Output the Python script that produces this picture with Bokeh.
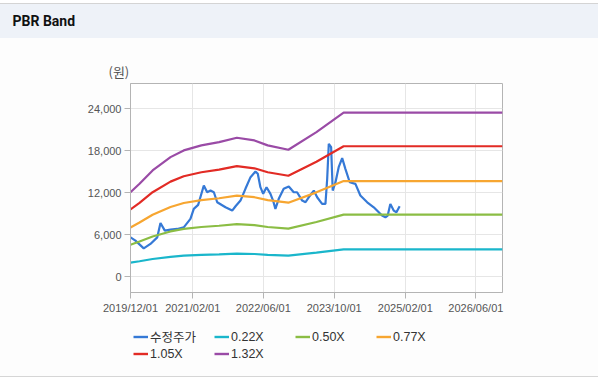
import pandas as pd
from bokeh.plotting import figure
from bokeh.layouts import column
from bokeh.models import (Range1d, FixedTicker, DatetimeTickFormatter, NumeralTickFormatter,
                          Legend, LegendItem, Title, GlobalInlineStyleSheet)
from bokeh.embed import file_html
from bokeh.resources import INLINE

# ---------------- data ----------------
price_dates = ["2019-12-01", "2020-01-04", "2020-03-01", "2020-04-16", "2020-06-02", "2020-06-24",
               "2020-07-24", "2020-09-01", "2020-10-17", "2020-12-01",
               "2021-01-16", "2021-02-08", "2021-03-10", "2021-04-18", "2021-05-11", "2021-06-03",
               "2021-06-26", "2021-07-19", "2021-09-14", "2021-10-30", "2021-11-22", "2021-12-26",
               "2022-01-29", "2022-03-05", "2022-04-08", "2022-04-24", "2022-05-12", "2022-05-31",
               "2022-06-23", "2022-07-20", "2022-08-07", "2022-08-23", "2022-09-15", "2022-10-19",
               "2022-11-23", "2022-12-27",
               "2023-01-19", "2023-02-23", "2023-03-18", "2023-04-09", "2023-05-14", "2023-06-06",
               "2023-07-10", "2023-08-02", "2023-08-14", "2023-08-25", "2023-09-10", "2023-09-21",
               "2023-10-10", "2023-11-01", "2023-11-25", "2023-12-17",
               "2024-01-16", "2024-02-24", "2024-03-29", "2024-05-15", "2024-06-29", "2024-08-25",
               "2024-09-17", "2024-10-03", "2024-10-21", "2024-11-13", "2024-12-02", "2024-12-24"]
price_values = [5620, 5150, 4050, 4680, 5620, 7680, 6580, 6720, 6820, 7050,
                8250, 9690, 10260, 13020, 12060, 12300, 12060, 10630, 9910, 9440, 10060, 10870,
                12550, 14210, 15020, 14690, 12780, 11830, 12780, 11830, 10870, 9690, 11120, 12550,
                12880, 12060,
                12060, 10870, 10630, 11340, 12300, 11340, 10400, 10400, 13980, 18980, 18500, 12300,
                13490, 15640, 16930, 15400,
                13490, 13260, 11590, 10630, 9910, 8730, 8480, 8730, 10400, 9440, 9200, 10060]

band_dates = ["2019-12-01", "2020-02-01", "2020-05-01", "2020-09-01", "2020-12-01", "2021-04-01",
              "2021-08-01", "2021-12-01", "2022-04-01", "2022-07-01", "2022-11-20", "2023-06-01",
              "2023-12-05", "2026-12-01"]
band_022 = [2010, 2210, 2530, 2845, 3005, 3125, 3200, 3305, 3245, 3125, 3020, 3440, 3900, 3900]
band_050 = [4570, 5025, 5745, 6465, 6830, 7100, 7275, 7515, 7370, 7100, 6865, 7820, 8870, 8870]
band_077 = [7040, 7740, 8850, 9955, 10520, 10935, 11205, 11575, 11350, 10935, 10570, 12045, 13660, 13660]
band_105 = [9600, 10555, 12065, 13575, 14345, 14910, 15280, 15780, 15475, 14910, 14415, 16420, 18625, 18625]
band_132 = [12065, 13265, 15165, 17070, 18030, 18745, 19205, 19840, 19455, 18745, 18125, 20645, 23415, 23415]

x_ticks = ["2019-12-01", "2021-02-01", "2022-06-01", "2023-10-01", "2025-02-01", "2026-06-01"]
y_ticks = [0, 6000, 12000, 18000, 24000]

series_names = ["수정주가", "0.22X", "0.50X", "0.77X", "1.05X", "1.32X"]
series_colors = ["#3579d6", "#1ab6cb", "#8bbd44", "#f7a631", "#e22b25", "#9a4ba6"]


def ms(d):
    return pd.Timestamp(d).value / 1e6


page_css = GlobalInlineStyleSheet(css=(
    "html, body { background: "
    "linear-gradient(to right, rgba(255,255,255,0) 598px, #ffffff 598px), "
    "linear-gradient(to bottom, #ffffff 0px, #ffffff 3px, #d4d4d4 3px, #d4d4d4 4px, "
    "#eef2f8 4px, #eef2f8 38px, #fdfdfd 38px, #fdfdfd 376px, #d6d6d6 376px, "
    "#d6d6d6 377px, #ffffff 377px) !important; overflow: hidden; }"))

# ---------------- main chart ----------------
p = figure(frame_width=372, frame_height=209, x_axis_type="datetime", output_backend="svg",
           toolbar_location=None,
           x_range=Range1d(ms("2019-12-01"), ms("2026-12-01")),
           y_range=Range1d(-2250, 27580),
           min_border_left=130, min_border_right=100, min_border_top=83, min_border_bottom=37)
p.stylesheets = [page_css]
p.background_fill_color = "#ffffff"
p.border_fill_color = None
p.outline_line_color = "#b4b4b4"

# header title (outermost); unit label nearest the frame; blank spacer between them
p.title.text = "PBR Band"
p.title.align = "left"
p.title.offset = -118
p.title.standoff = 0
p.title.text_font = "Roboto"
p.title.text_font_size = "14px"
p.title.text_font_style = "bold"
p.title.text_color = "#111111"
p.add_layout(Title(text="(원)", align="left", offset=-22, standoff=6,
                   text_font="Noto Sans CJK KR", text_font_style="normal",
                   text_font_size="13px", text_color="#555555"), "above")
p.add_layout(Title(text=" ", standoff=7, text_font="Noto Sans CJK KR",
                   text_font_size="13px"), "above")

px = pd.to_datetime(price_dates)
bx = pd.to_datetime(band_dates)
p.line(px, price_values, line_color=series_colors[0], line_width=2.2)
for vals, col in zip([band_022, band_050, band_077, band_105, band_132], series_colors[1:]):
    p.line(bx, vals, line_color=col, line_width=2.2)

# axes
p.xaxis.ticker = FixedTicker(ticks=[ms(d) for d in x_ticks])
p.xaxis.formatter = DatetimeTickFormatter(
    milliseconds="%Y/%m/%d", seconds="%Y/%m/%d", minsec="%Y/%m/%d", minutes="%Y/%m/%d",
    hourmin="%Y/%m/%d", hours="%Y/%m/%d", days="%Y/%m/%d", months="%Y/%m/%d", years="%Y/%m/%d")
p.yaxis.ticker = FixedTicker(ticks=y_ticks)
p.yaxis.formatter = NumeralTickFormatter(format="0,0")
for ax in (p.xaxis[0], p.yaxis[0]):
    ax.axis_line_color = "#b4b4b4"
    ax.major_tick_line_color = "#b4b4b4"
    ax.major_tick_out = 6
    ax.major_tick_in = 0
    ax.minor_tick_line_color = None
    ax.major_label_text_font = "Liberation Sans"
    ax.major_label_text_font_size = "11px"
    ax.major_label_text_color = "#555555"
    ax.major_label_standoff = 3
p.xgrid.grid_line_color = "#e6e6e6"
p.ygrid.grid_line_color = "#e6e6e6"

# ---------------- legend strip (own small figure, legend drawn inside its frame) ----------------
lg = figure(width=602, height=35, output_backend="svg", toolbar_location=None,
            x_range=Range1d(0, 1), y_range=Range1d(0, 1),
            x_axis_location=None, y_axis_location=None,
            min_border_left=0, min_border_right=0, min_border_top=0, min_border_bottom=0)
lg.background_fill_color = None
lg.border_fill_color = None
lg.outline_line_color = None
lg.xgrid.visible = False
lg.ygrid.visible = False
# legend key proxies: one point each, outside the strip's ranges so nothing is drawn
keys = [lg.line(x=[-1], y=[-1], line_color=c, line_width=2.4) for c in series_colors]
items = [LegendItem(label=n, renderers=[r]) for n, r in zip(series_names, keys)]

legend_kw = dict(orientation="horizontal",
                 glyph_width=15, glyph_height=15, label_height=15, label_width=64,
                 label_standoff=2, spacing=0, padding=0, margin=0,
                 border_line_color=None, background_fill_alpha=0,
                 label_text_font="Liberation Sans, Noto Sans CJK KR", label_text_font_size="12.5px",
                 label_text_color="#333333")
lg.add_layout(Legend(items=items[:4], location=(3, 18), **legend_kw), "center")
lg.add_layout(Legend(items=items[4:], location=(3, 3), **legend_kw), "center")

layout = column(p, lg, spacing=0)
open("out.html", "w").write(file_html(layout, INLINE))
